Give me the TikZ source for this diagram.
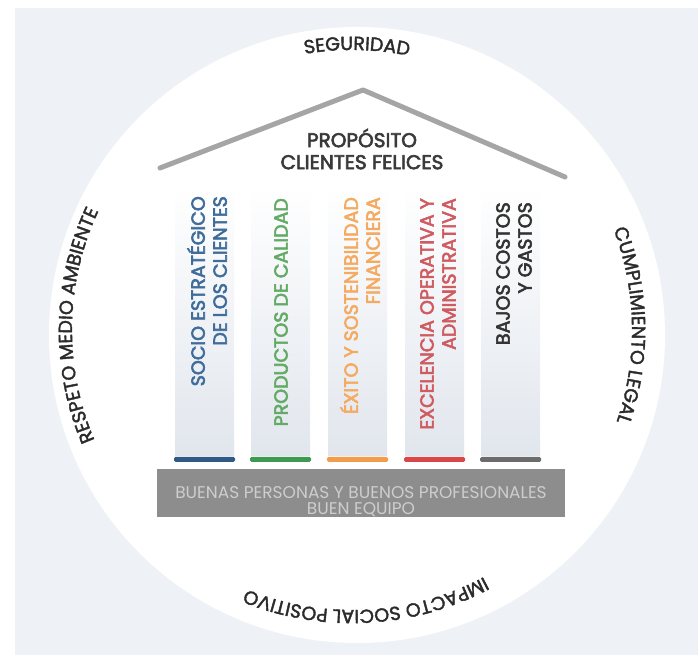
\documentclass[tikz,border=0pt]{standalone}
\usepackage{fontspec}
\setmainfont{Poppins}
\newfontfamily\semifont{Poppins}[FakeBold=3]
\newfontfamily\ringfam{Poppins}[FakeBold=2]
\usetikzlibrary{decorations.text}

\definecolor{bgblue}{HTML}{EEF2F6}
\definecolor{ringtext}{HTML}{2B2B2B}
\definecolor{rooftop}{HTML}{A5A5A5}
\definecolor{titletext}{HTML}{3A3A3A}
\definecolor{pillar}{HTML}{E1E6ED}
\definecolor{txtblue}{HTML}{3F6C99}
\definecolor{txtgreen}{HTML}{63AA66}
\definecolor{txtorange}{HTML}{F4AA60}
\definecolor{txtred}{HTML}{CF5A60}
\definecolor{txtdark}{HTML}{333333}
\definecolor{barblue}{HTML}{2D5B86}
\definecolor{bargreen}{HTML}{3D9A50}
\definecolor{barorange}{HTML}{F39C4B}
\definecolor{barred}{HTML}{D9474A}
\definecolor{bargray}{HTML}{6C6C6C}
\definecolor{basegray}{HTML}{8D8D8D}
\definecolor{basetext}{HTML}{CDCDCD}

\newcommand\ringfont{\ringfam\fontsize{19}{22}\selectfont\color{ringtext}}
\newcommand\pillarfont{\semifont\fontsize{19}{22}\selectfont}
\newcommand\titlefont{\semifont\fontsize{20}{22}\selectfont}
\newcommand\basefont{\fontsize{17}{16}\selectfont}

\tikzset{
  ringtext/.style={decorate,decoration={text along path,text align=center,text={|\ringfont|#1}}},
  pillartext/.style={rotate=90,anchor=east,align=right,inner sep=0pt,text=#1,font=\pillarfont}
}

\begin{document}
\begin{tikzpicture}[x=1pt,y=1pt]
\useasboundingbox (0,0) rectangle (698,660);
% fondo y circulo
\fill[bgblue] (15,5) rectangle (698,652);
\fill[white] (357,325) circle (308);

% textos del anillo
\path[ringtext={SEGURIDAD}] ([shift={(134:280)}]352,330) arc[start angle=134,end angle=44,radius=280];
\path[ringtext={RESPETO MEDIO AMBIENTE}] ([shift={(229:280)}]352,330) arc[start angle=229,end angle=129,radius=280];
\path[ringtext={CUMPLIMIENTO LEGAL}] ([shift={(46:280)}]352,330) arc[start angle=46,end angle=-44,radius=280];
\path[ringtext={IMPACTO SOCIAL POSITIVO}] ([shift={(-37:280)}]352,330) arc[start angle=-37,end angle=-137,radius=280];

% techo
\draw[rooftop,line width=5pt,line cap=round,line join=round] (160,492) -- (363,570) -- (565,483);
\node[text=titletext,font=\titlefont,align=center] (proposito) at (362,511) {PROPÓSITO\\CLIENTES FELICES};

% columnas
\foreach \x/\c in {175/barblue,251/bargreen,328/barorange,405/barred,481/bargray}{
  \shade[top color=white,bottom color=pillar] (\x,204) rectangle ++(59,271);
  \fill[\c,rounded corners=1.5pt] (\x-1,198) rectangle ++(61,5);
}
\node[pillartext=txtblue] (socio) at (207,464) {SOCIO ESTRATÉGICO\\DE LOS CLIENTES};
\node[pillartext=txtgreen] (productos) at (281,462) {PRODUCTOS DE CALIDAD};
\node[pillartext=txtorange] (exito) at (360,463) {ÉXITO Y SOSTENIBILIDAD\\FINANCIERA};
\node[pillartext=txtred] (excelencia) at (438,462) {EXCELENCIA OPERATIVA Y\\ADMINISTRATIVA};
\node[pillartext=txtdark] (bajos) at (514,458) {BAJOS COSTOS\\Y GASTOS};

% base
\fill[basegray] (157,143) rectangle (565,191);
\node[text=basetext,font=\basefont,align=center] (base) at (361,158) {BUENAS PERSONAS Y BUENOS PROFESIONALES\\BUEN EQUIPO};
\end{tikzpicture}
\end{document}
